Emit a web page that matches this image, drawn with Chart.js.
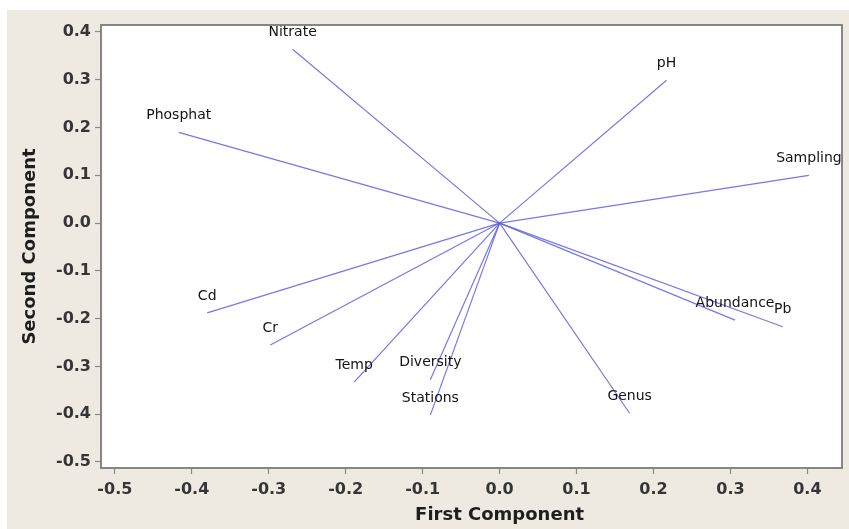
<!DOCTYPE html>
<html>
<head>
<meta charset="utf-8">
<script src="https://cdn.jsdelivr.net/npm/chart.js@4"></script>
<style>
  html, body { margin: 0; padding: 0; background: #ffffff; }
  #wrap { width: 849px; height: 529px; }
</style>
</head>
<body>
<div id="wrap"><canvas id="c" width="849" height="529"></canvas></div>
<script>
// ---- Data ----
const variables = ['Nitrate', 'pH', 'Phosphat', 'Sampling', 'Cd', 'Cr', 'Temp', 'Diversity', 'Stations', 'Genus', 'Abundance', 'Pb'];
const firstComponent  = [-0.269, 0.217, -0.417, 0.402, -0.380, -0.298, -0.189, -0.090, -0.090, 0.169, 0.306, 0.368];
const secondComponent = [ 0.364, 0.299,  0.190, 0.100, -0.188, -0.255, -0.333, -0.328, -0.402, -0.398, -0.203, -0.217];
const xTicks = [-0.5, -0.4, -0.3, -0.2, -0.1, 0.0, 0.1, 0.2, 0.3, 0.4];
const yTicks = [-0.5, -0.4, -0.3, -0.2, -0.1, 0.0, 0.1, 0.2, 0.3, 0.4];
const xTitle = 'First Component';
const yTitle = 'Second Component';

const LINE_COLOR = 'rgba(95, 95, 225, 0.85)';

const datasets = variables.map((name, i) => ({
  label: name,
  data: [{ x: 0, y: 0 }, { x: firstComponent[i], y: secondComponent[i] }],
  showLine: true,
  borderColor: LINE_COLOR,
  borderWidth: 1.2,
  pointRadius: 0,
  fill: false
}));

const bgPlugin = {
  id: 'bg',
  beforeDraw(chart) {
    const { ctx, chartArea: a } = chart;
    ctx.save();
    ctx.fillStyle = '#ffffff';
    ctx.fillRect(0, 0, chart.width, chart.height);
    ctx.fillStyle = '#eeeae1';
    ctx.fillRect(7, 10, chart.width - 7, chart.height - 10);
    ctx.fillStyle = '#ffffff';
    ctx.fillRect(a.left, a.top, a.right - a.left, a.bottom - a.top);
    ctx.restore();
  },
  afterDraw(chart) {
    const { ctx, chartArea: a } = chart;
    ctx.save();
    ctx.strokeStyle = '#7a7a7a';
    ctx.lineWidth = 1.8;
    ctx.strokeRect(a.left, a.top, a.right - a.left, a.bottom - a.top);
    // x-axis title centred near the origin, as in the reference
    const xs = chart.scales.x;
    ctx.fillStyle = '#1e1e1e';
    ctx.font = 'bold 18px "DejaVu Sans"';
    ctx.textAlign = 'center';
    ctx.textBaseline = 'middle';
    ctx.fillText(xTitle, xs.getPixelForValue(0), 515);
    ctx.restore();
  }
};

const labelPlugin = {
  id: 'pointLabels',
  afterDatasetsDraw(chart) {
    const { ctx } = chart;
    ctx.save();
    ctx.fillStyle = '#141414';
    ctx.font = '14px "DejaVu Sans"';
    ctx.textAlign = 'center';
    ctx.textBaseline = 'middle';
    chart.data.datasets.forEach((ds, i) => {
      const pt = chart.getDatasetMeta(i).data[1];
      ctx.fillText(ds.label, pt.x, pt.y - 17);
    });
    ctx.restore();
  }
};

new Chart(document.getElementById('c'), {
  type: 'scatter',
  data: { datasets },
  options: {
    responsive: false,
    animation: false,
    layout: { padding: { left: 0, top: 25, right: 7, bottom: 0 } },
    plugins: { legend: { display: false }, tooltip: { enabled: false } },
    scales: {
      x: {
        type: 'linear',
        min: -0.518,
        max: 0.445,
        afterBuildTicks(scale) { scale.ticks = xTicks.map(v => ({ value: v })); },
        afterFit(scale) { scale.height = 61; },
        grid: { drawOnChartArea: false, drawTicks: true, tickLength: 6, color: '#8a8a8a', tickWidth: 1.2 },
        border: { display: false },
        ticks: {
          padding: 6,
          color: '#353535',
          font: { family: 'DejaVu Sans', size: 16, weight: 'bold' },
          maxRotation: 0,
          callback: v => Number(v).toFixed(1)
        },
        title: { display: false }
      },
      y: {
        type: 'linear',
        min: -0.5126,
        max: 0.4146,
        afterBuildTicks(scale) { scale.ticks = yTicks.map(v => ({ value: v })); },
        afterFit(scale) { scale.width = 101; },
        grid: { drawOnChartArea: false, drawTicks: true, tickLength: 6, color: '#8a8a8a', tickWidth: 1.2 },
        border: { display: false },
        ticks: {
          padding: 4,
          color: '#353535',
          font: { family: 'DejaVu Sans', size: 16, weight: 'bold' },
          callback: v => Number(v).toFixed(1)
        },
        title: {
          display: true,
          text: yTitle,
          color: '#1e1e1e',
          font: { family: 'DejaVu Sans', size: 18, weight: 'bold' },
          padding: { top: 20, bottom: 0 }
        }
      }
    }
  },
  plugins: [bgPlugin, labelPlugin]
});
</script>
</body>
</html>
